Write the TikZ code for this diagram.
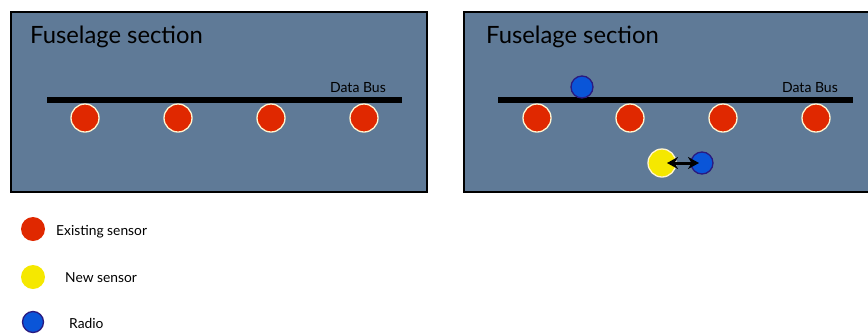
\documentclass[tikz,border=0pt]{standalone}
\usepackage{fontspec}
\setmainfont{Lato}
\usetikzlibrary{arrows.meta}
\definecolor{panel}{HTML}{5F7A97}
\definecolor{sred}{HTML}{E02800}
\definecolor{syel}{HTML}{F5E800}
\definecolor{sblue}{HTML}{0A55D8}
\definecolor{sblueb}{HTML}{2A1A80}
\definecolor{cream}{HTML}{FFF4D0}
\tikzset{
  panelbox/.style={draw=black, line width=1.6pt, fill=panel},
  busline/.style={line width=5.5pt, black},
  existing/.style={circle, fill=sred, draw=cream, line width=1.3pt, minimum size=28pt, inner sep=0pt},
  newsensor/.style={circle, fill=syel, draw=cream, line width=1.3pt, minimum size=28pt, inner sep=0pt},
  radio/.style={circle, fill=sblue, draw=sblueb, line width=1.3pt, minimum size=22pt, inner sep=0pt},
  legexisting/.style={circle, fill=sred, minimum size=24pt, inner sep=0pt},
  legnew/.style={circle, fill=syel, minimum size=24pt, inner sep=0pt},
  legradio/.style={circle, fill=sblue, draw=sblueb, line width=1.3pt, minimum size=21pt, inner sep=0pt},
  title/.style={anchor=base west, font=\fontsize{23.8pt}{27pt}\selectfont, inner sep=0pt},
  buslabel/.style={anchor=base east, font=\fontsize{14pt}{16pt}\selectfont, inner sep=0pt},
  legtext/.style={anchor=base west, font=\fontsize{13.8pt}{16pt}\selectfont, inner sep=0pt},
  linkarrow/.style={line width=3pt, {Stealth[length=11pt,width=12pt]}-{Stealth[length=11pt,width=12pt]}},
}
\begin{document}
\begin{tikzpicture}[x=1pt, y=-1pt]
\useasboundingbox (0,0) rectangle (868,333);
% left panel
\draw[panelbox] (11,12) rectangle (427,192);
\node[title] (t1) at (30,43) {Fuselage section};
\coordinate (b1s) at (47,100);
\coordinate (b1e) at (402,100);
\draw[busline] (b1s) -- (b1e);
\node[buslabel] (bl1) at (386,92) {Data Bus};
\node[existing] (e11) at (85,118) {};
\node[existing] (e12) at (178,118) {};
\node[existing] (e13) at (271,118) {};
\node[existing] (e14) at (364,118) {};
% right panel
\draw[panelbox] (464,12) rectangle (872,192);
\node[title] (t2) at (486,43) {Fuselage section};
\coordinate (b2s) at (498,100);
\coordinate (b2e) at (853,100);
\draw[busline] (b2s) -- (b2e);
\node[buslabel] (bl2) at (838,92) {Data Bus};
\node[existing] (e21) at (537,118) {};
\node[existing] (e22) at (630,118) {};
\node[existing] (e23) at (723,118) {};
\node[existing] (e24) at (816,118) {};
\node[radio] (r1) at (582,87) {};
\node[newsensor] (n1) at (662,163) {};
\node[radio] (r2) at (702,163) {};
\coordinate (a1) at (667,163);
\coordinate (a2) at (699,163);
\draw[linkarrow] (a1) -- (a2);
% legend
\node[legexisting] (le) at (33,229) {};
\node[legtext] (lte) at (56,235) {Existing sensor};
\node[legnew] (ln) at (33,277) {};
\node[legtext] (ltn) at (65,282) {New sensor};
\node[legradio] (lr) at (33,322) {};
\node[legtext] (ltr) at (69,328) {Radio};
\end{tikzpicture}
\end{document}
